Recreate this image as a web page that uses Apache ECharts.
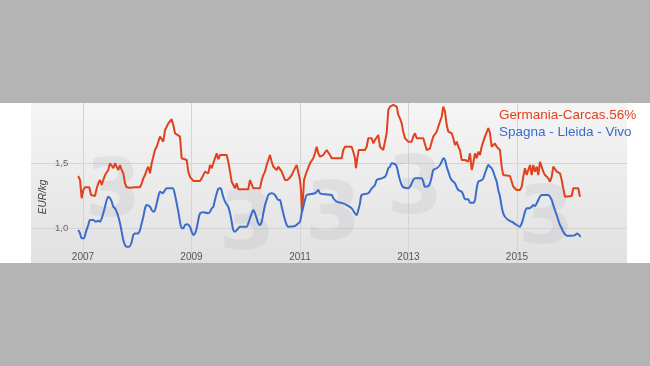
<!DOCTYPE html>
<html>
<head>
<meta charset="utf-8">
<script src="https://cdn.jsdelivr.net/npm/echarts@6/dist/echarts.min.js"></script>
<style>
  html, body { margin: 0; padding: 0; background: #b4b4b4; width: 650px; height: 366px; overflow: hidden; }
  #band { position: absolute; left: 0; top: 103px; width: 650px; height: 160px; background: #ffffff; }
  #chart { position: absolute; left: 0; top: 0; width: 650px; height: 366px; }
</style>
</head>
<body>
<div id="band"></div>
<div id="chart"></div>
<script>
// Decimal-year dates and prices (EUR/kg)
const seriesNames = ['Germania-Carcas.56%', 'Spagna - Lleida - Vivo'];
const yearTicks = [2007, 2009, 2011, 2013, 2015];
const valueTicks = [1.0, 1.5];

const germania = [[2006.913,1.401],[2006.945,1.370],[2006.976,1.231],[2007.006,1.294],[2007.037,1.315],[2007.068,1.319],[2007.116,1.315],[2007.147,1.256],[2007.179,1.243],[2007.221,1.248],[2007.253,1.307],[2007.282,1.345],[2007.313,1.370],[2007.345,1.332],[2007.374,1.370],[2007.406,1.408],[2007.437,1.408],[2007.466,1.447],[2007.498,1.498],[2007.529,1.502],[2007.559,1.460],[2007.590,1.498],[2007.621,1.472],[2007.651,1.447],[2007.682,1.485],[2007.713,1.447],[2007.743,1.421],[2007.774,1.345],[2007.806,1.315],[2007.866,1.311],[2007.959,1.315],[2008.051,1.315],[2008.082,1.345],[2008.112,1.383],[2008.143,1.408],[2008.174,1.447],[2008.204,1.472],[2008.235,1.421],[2008.266,1.498],[2008.296,1.510],[2008.327,1.599],[2008.359,1.624],[2008.388,1.624],[2008.419,1.701],[2008.451,1.714],[2008.480,1.663],[2008.512,1.752],[2008.543,1.777],[2008.572,1.803],[2008.604,1.803],[2008.635,1.834],[2008.665,1.790],[2008.696,1.727],[2008.727,1.714],[2008.788,1.701],[2008.819,1.536],[2008.849,1.523],[2008.912,1.523],[2008.941,1.434],[2008.972,1.395],[2009.033,1.363],[2009.157,1.363],[2009.188,1.383],[2009.218,1.395],[2009.249,1.434],[2009.280,1.447],[2009.310,1.421],[2009.341,1.485],[2009.372,1.460],[2009.402,1.498],[2009.433,1.536],[2009.465,1.574],[2009.494,1.528],[2009.525,1.561],[2009.649,1.561],[2009.678,1.510],[2009.710,1.434],[2009.741,1.357],[2009.770,1.357],[2009.802,1.307],[2009.833,1.345],[2009.863,1.299],[2010.047,1.299],[2010.078,1.370],[2010.110,1.383],[2010.139,1.307],[2010.263,1.307],[2010.294,1.370],[2010.324,1.408],[2010.355,1.434],[2010.386,1.485],[2010.416,1.523],[2010.447,1.561],[2010.478,1.510],[2010.508,1.472],[2010.539,1.472],[2010.571,1.447],[2010.600,1.472],[2010.631,1.460],[2010.663,1.434],[2010.692,1.421],[2010.724,1.370],[2010.766,1.370],[2010.803,1.383],[2010.847,1.408],[2010.876,1.434],[2010.908,1.447],[2010.939,1.485],[2010.969,1.472],[2011.000,1.370],[2011.018,1.294],[2011.037,1.128],[2011.061,1.269],[2011.074,1.370],[2011.092,1.395],[2011.124,1.434],[2011.153,1.447],[2011.184,1.498],[2011.216,1.498],[2011.245,1.536],[2011.276,1.574],[2011.308,1.624],[2011.337,1.574],[2011.369,1.548],[2011.400,1.548],[2011.429,1.561],[2011.461,1.574],[2011.492,1.599],[2011.522,1.586],[2011.553,1.561],[2011.584,1.536],[2011.769,1.536],[2011.798,1.599],[2011.830,1.624],[2011.953,1.624],[2011.982,1.586],[2012.014,1.536],[2012.032,1.460],[2012.056,1.536],[2012.082,1.599],[2012.198,1.599],[2012.230,1.624],[2012.259,1.689],[2012.322,1.689],[2012.351,1.650],[2012.382,1.676],[2012.414,1.689],[2012.443,1.714],[2012.475,1.624],[2012.535,1.599],[2012.567,1.612],[2012.598,1.727],[2012.628,1.905],[2012.659,1.930],[2012.720,1.943],[2012.783,1.930],[2012.812,1.866],[2012.843,1.841],[2012.875,1.803],[2012.904,1.739],[2012.935,1.689],[2012.967,1.689],[2012.996,1.663],[2013.059,1.663],[2013.088,1.701],[2013.120,1.727],[2013.151,1.689],[2013.273,1.689],[2013.304,1.676],[2013.335,1.599],[2013.365,1.599],[2013.396,1.612],[2013.428,1.663],[2013.457,1.701],[2013.488,1.689],[2013.520,1.739],[2013.549,1.777],[2013.581,1.790],[2013.612,1.853],[2013.641,1.930],[2013.673,1.892],[2013.704,1.790],[2013.734,1.739],[2013.765,1.739],[2013.796,1.727],[2013.826,1.689],[2013.857,1.637],[2013.889,1.663],[2013.918,1.624],[2013.949,1.599],[2013.981,1.523],[2014.041,1.523],[2014.073,1.536],[2014.102,1.510],[2014.134,1.574],[2014.165,1.447],[2014.194,1.498],[2014.226,1.574],[2014.257,1.536],[2014.287,1.586],[2014.318,1.561],[2014.349,1.624],[2014.379,1.663],[2014.410,1.701],[2014.471,1.767],[2014.502,1.729],[2014.534,1.624],[2014.563,1.612],[2014.594,1.650],[2014.626,1.624],[2014.655,1.624],[2014.687,1.599],[2014.718,1.472],[2014.747,1.408],[2014.871,1.401],[2014.932,1.319],[2014.994,1.294],[2015.055,1.294],[2015.087,1.319],[2015.116,1.395],[2015.147,1.460],[2015.179,1.408],[2015.208,1.447],[2015.240,1.485],[2015.271,1.408],[2015.300,1.485],[2015.332,1.434],[2015.363,1.472],[2015.393,1.408],[2015.424,1.510],[2015.455,1.523],[2015.485,1.434],[2015.516,1.408],[2015.577,1.383],[2015.608,1.357],[2015.640,1.395],[2015.669,1.472],[2015.700,1.485],[2015.732,1.434],[2015.793,1.421],[2015.824,1.370],[2015.853,1.307],[2015.885,1.243],[2016.008,1.248],[2016.038,1.307],[2016.130,1.307],[2016.161,1.243]];

const spagna = [[2006.913,0.989],[2006.945,0.963],[2006.976,0.925],[2007.018,0.925],[2007.055,0.976],[2007.098,1.027],[2007.129,1.065],[2007.190,1.065],[2007.240,1.052],[2007.282,1.060],[2007.313,1.052],[2007.345,1.078],[2007.374,1.116],[2007.406,1.166],[2007.437,1.218],[2007.466,1.243],[2007.498,1.231],[2007.529,1.205],[2007.559,1.166],[2007.590,1.154],[2007.621,1.128],[2007.651,1.090],[2007.682,1.040],[2007.713,0.976],[2007.743,0.912],[2007.774,0.874],[2007.806,0.861],[2007.853,0.861],[2007.898,0.899],[2007.927,0.950],[2007.959,0.963],[2008.019,0.963],[2008.051,0.989],[2008.082,1.040],[2008.112,1.090],[2008.143,1.154],[2008.174,1.179],[2008.235,1.166],[2008.266,1.141],[2008.296,1.128],[2008.327,1.141],[2008.359,1.192],[2008.388,1.243],[2008.419,1.281],[2008.469,1.269],[2008.512,1.294],[2008.543,1.307],[2008.653,1.307],[2008.696,1.256],[2008.727,1.192],[2008.757,1.128],[2008.788,1.052],[2008.819,1.002],[2008.849,1.002],[2008.880,1.027],[2008.923,1.032],[2008.972,1.014],[2009.004,0.976],[2009.033,0.950],[2009.065,0.963],[2009.096,1.002],[2009.125,1.065],[2009.157,1.116],[2009.218,1.124],[2009.310,1.116],[2009.341,1.128],[2009.372,1.154],[2009.402,1.166],[2009.433,1.218],[2009.465,1.269],[2009.494,1.302],[2009.538,1.307],[2009.575,1.256],[2009.618,1.205],[2009.678,1.166],[2009.710,1.116],[2009.741,1.052],[2009.770,0.989],[2009.802,0.976],[2009.863,1.002],[2009.894,1.014],[2010.018,1.014],[2010.047,1.040],[2010.078,1.078],[2010.110,1.116],[2010.139,1.141],[2010.171,1.116],[2010.202,1.078],[2010.231,1.040],[2010.263,1.027],[2010.294,1.052],[2010.324,1.116],[2010.355,1.179],[2010.386,1.218],[2010.416,1.256],[2010.478,1.269],[2010.539,1.256],[2010.600,1.218],[2010.631,1.218],[2010.663,1.166],[2010.692,1.116],[2010.724,1.065],[2010.755,1.027],[2010.784,1.014],[2010.908,1.019],[2010.969,1.040],[2011.000,1.052],[2011.031,1.116],[2011.061,1.166],[2011.092,1.218],[2011.124,1.256],[2011.276,1.269],[2011.337,1.294],[2011.369,1.269],[2011.461,1.261],[2011.584,1.256],[2011.614,1.231],[2011.677,1.205],[2011.798,1.192],[2011.861,1.179],[2011.953,1.154],[2012.014,1.116],[2012.045,1.103],[2012.075,1.141],[2012.106,1.192],[2012.137,1.256],[2012.259,1.269],[2012.322,1.307],[2012.382,1.332],[2012.414,1.370],[2012.506,1.383],[2012.567,1.395],[2012.598,1.421],[2012.628,1.460],[2012.659,1.472],[2012.690,1.498],[2012.751,1.492],[2012.783,1.472],[2012.812,1.421],[2012.843,1.370],[2012.875,1.332],[2012.904,1.315],[2012.996,1.307],[2013.028,1.319],[2013.059,1.345],[2013.088,1.370],[2013.120,1.383],[2013.243,1.383],[2013.273,1.357],[2013.304,1.319],[2013.365,1.324],[2013.396,1.345],[2013.428,1.395],[2013.457,1.447],[2013.520,1.460],[2013.581,1.485],[2013.612,1.510],[2013.641,1.536],[2013.673,1.523],[2013.704,1.472],[2013.734,1.434],[2013.765,1.395],[2013.796,1.370],[2013.857,1.345],[2013.889,1.315],[2013.918,1.294],[2013.981,1.281],[2014.010,1.256],[2014.041,1.223],[2014.102,1.223],[2014.134,1.197],[2014.194,1.197],[2014.226,1.218],[2014.257,1.307],[2014.287,1.357],[2014.349,1.370],[2014.379,1.383],[2014.410,1.421],[2014.442,1.460],[2014.471,1.485],[2014.502,1.472],[2014.534,1.460],[2014.563,1.434],[2014.594,1.395],[2014.626,1.357],[2014.655,1.294],[2014.687,1.243],[2014.718,1.166],[2014.747,1.116],[2014.779,1.090],[2014.840,1.065],[2014.902,1.052],[2014.994,1.027],[2015.055,1.014],[2015.087,1.040],[2015.116,1.078],[2015.147,1.128],[2015.179,1.154],[2015.227,1.154],[2015.271,1.166],[2015.300,1.179],[2015.332,1.172],[2015.363,1.192],[2015.393,1.218],[2015.424,1.243],[2015.455,1.256],[2015.577,1.256],[2015.608,1.243],[2015.640,1.218],[2015.669,1.179],[2015.700,1.141],[2015.732,1.103],[2015.761,1.065],[2015.793,1.027],[2015.824,1.002],[2015.853,0.976],[2015.885,0.958],[2015.916,0.945],[2016.008,0.945],[2016.069,0.950],[2016.112,0.963],[2016.148,0.950],[2016.174,0.937]];

const RED = '#e0421f';
const BLUE = '#3b6cc9';

const chart = echarts.init(document.getElementById('chart'), null, { renderer: 'canvas' });

const watermark = (x, y) => ({
  type: 'text', x: x, y: y, z: 1, silent: true,
  style: {
    text: '3', fontSize: 80, fontWeight: 'bold', fontFamily: 'DejaVu Sans',
    fill: 'rgba(150,152,170,0.14)', align: 'center', verticalAlign: 'middle'
  }
});

chart.setOption({
  animation: false,
  grid: {
    left: 31, right: 23, top: 103, bottom: 103,
    show: true, borderWidth: 0,
    backgroundColor: {
      type: 'linear', x: 0, y: 0, x2: 0, y2: 1,
      colorStops: [{ offset: 0, color: '#f5f5f5' }, { offset: 1, color: '#e1e1e1' }]
    }
  },
  legend: {
    orient: 'vertical', left: 489, top: 103, icon: 'none',
    itemWidth: 0, itemHeight: 14, itemGap: 3.7, selectedMode: false,
    textStyle: { fontSize: 13.5, fontFamily: 'Liberation Sans, Arial, sans-serif' },
    data: [
      { name: seriesNames[0], textStyle: { color: RED } },
      { name: seriesNames[1], textStyle: { color: BLUE } }
    ]
  },
  xAxis: {
    type: 'value', min: 2006.0415, max: 2017.028,
    axisLine: { show: false },
    axisTick: { show: false, customValues: yearTicks },
    splitLine: { show: true, lineStyle: { color: '#d4d4d4', width: 1 } },
    axisLabel: {
      customValues: yearTicks, inside: true, margin: 1,
      color: '#555', fontSize: 10, fontFamily: 'Liberation Sans, Arial, sans-serif',
      formatter: v => String(Math.round(v))
    }
  },
  yAxis: {
    type: 'value', min: 0.737, max: 1.958,
    axisLine: { show: false },
    axisTick: { show: false, customValues: valueTicks },
    splitLine: { show: true, lineStyle: { color: '#d4d4d4', width: 1 } },
    axisLabel: {
      customValues: valueTicks, inside: true, margin: 24,
      color: '#666', fontSize: 9.5, fontFamily: 'Liberation Sans, Arial, sans-serif',
      formatter: v => v.toFixed(1).replace('.', ',')
    }
  },
  graphic: [
    watermark(113, 195), watermark(247, 228), watermark(333, 218),
    watermark(415, 192), watermark(546, 222),
    {
      type: 'text', x: 43, y: 197, rotation: Math.PI / 2, z: 3, silent: true,
      style: {
        text: 'EUR/kg', fontSize: 10, fontStyle: 'italic',
        fontFamily: 'Liberation Sans, Arial, sans-serif', fill: '#444',
        align: 'center', verticalAlign: 'middle'
      }
    }
  ],
  series: [
    {
      name: seriesNames[0], type: 'line', data: germania, showSymbol: false,
      lineStyle: { color: RED, width: 2 }, itemStyle: { color: RED }, z: 3
    },
    {
      name: seriesNames[1], type: 'line', data: spagna, showSymbol: false, smooth: 0.25,
      lineStyle: { color: BLUE, width: 2 }, itemStyle: { color: BLUE }, z: 3
    }
  ]
});
</script>
</body>
</html>
